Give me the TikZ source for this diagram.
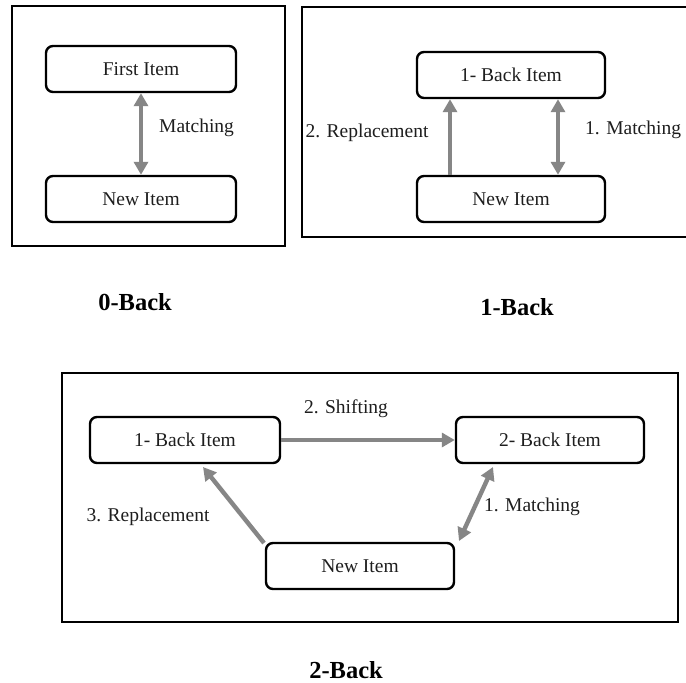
\documentclass[tikz,border=0pt]{standalone}
\usepackage{fontspec}
\setmainfont{Liberation Serif}
\usetikzlibrary{arrows.meta}
\definecolor{arrowgray}{HTML}{868686}
\definecolor{txt}{HTML}{1E1E1E}
\begin{document}
\begin{tikzpicture}[x=1pt,y=-1pt,
  panel/.style={draw=black,line width=2.8pt},
  itembox/.style={draw=black,line width=2.4pt,rounded corners=7pt,
    minimum height=46pt,inner sep=0pt,text=txt,font=\fontsize{19.5}{21}\selectfont},
  lbl/.style={text=txt,inner sep=0pt,font=\fontsize{19.5}{21}\selectfont},
  title/.style={text=black,inner sep=0pt,font=\fontsize{24.5}{26}\selectfont\bfseries},
  garrow/.style={draw=arrowgray,line width=4.4pt,-{Triangle[length=13pt,width=14pt]}},
  gdarrow/.style={draw=arrowgray,line width=4.4pt,{Triangle[length=13pt,width=14pt]}-{Triangle[length=13pt,width=14pt]}}
]
\useasboundingbox (0,0) rectangle (686,683);
\fill[white] (0,0) rectangle (686,683);

% ---- 0-Back panel ----
\draw[panel] (12,6) rectangle (285,246);
\node[itembox,minimum width=190pt] (f0) at (141,69) {First Item};
\node[itembox,minimum width=190pt] (n0) at (141,199) {New Item};
\draw[gdarrow] (f0.south) -- (n0.north);
\node[lbl,anchor=west] (m0) at (159,128) {Matching};
\node[title] (t0) at (135,302) {0-Back};

% ---- 1-Back panel ----
\draw[panel] (690,7) -- (302,7) -- (302,237) -- (690,237);
\node[itembox,minimum width=188pt] (b1) at (511,75) {1- Back Item};
\node[itembox,minimum width=188pt] (n1) at (511,199) {New Item};
\coordinate (xl) at (450,0);
\coordinate (xr) at (558,0);
\draw[garrow] (n1.north -| xl) -- (b1.south -| xl);
\draw[gdarrow] (b1.south -| xr) -- (n1.north -| xr);
\node[lbl] (r1) at (367,133) {2. Replacement};
\node[lbl,anchor=west] (m1) at (585,130) {1. Matching};
\node[title] (t1) at (517,307) {1-Back};

% ---- 2-Back panel ----
\draw[panel] (62,373) rectangle (678,622);
\node[itembox,minimum width=190pt] (c1) at (185,440) {1- Back Item};
\node[itembox,minimum width=188pt] (c2) at (550,440) {2- Back Item};
\node[itembox,minimum width=188pt] (cn) at (360,566) {New Item};
\draw[garrow] (c1.east) -- (c2.west);
\coordinate (rt) at (264,543);
\coordinate (rh) at (203,467);
\draw[garrow] (rt) -- (rh);
\coordinate (ma) at (493,467);
\coordinate (mb) at (459,541);
\draw[gdarrow] (ma) -- (mb);
\node[lbl] (s2) at (346,409) {2. Shifting};
\node[lbl] (r2) at (148,517) {3. Replacement};
\node[lbl] (m2) at (532,507) {1. Matching};
\node[title] (t2) at (346,670) {2-Back};
\end{tikzpicture}
\end{document}
